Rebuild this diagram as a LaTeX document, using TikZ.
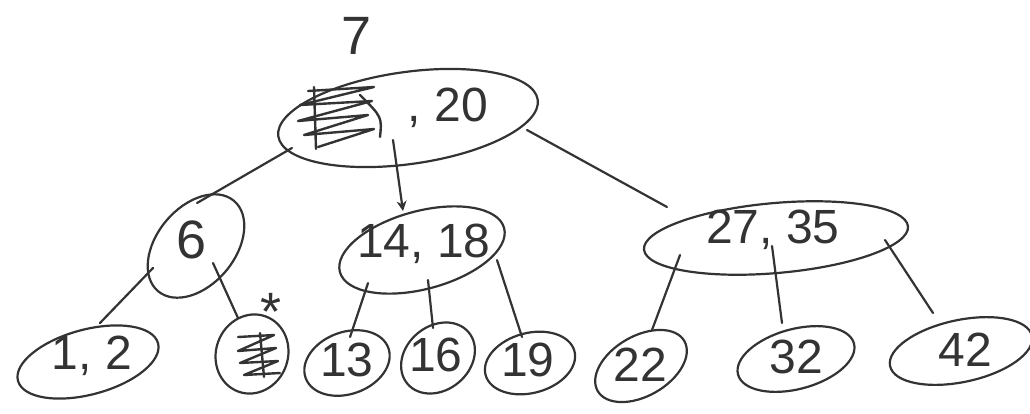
\documentclass[tikz,border=0pt]{standalone}
\usepackage{fontspec}
\setmainfont{Liberation Sans}
\usetikzlibrary{shapes.geometric,arrows.meta}
\definecolor{ink}{HTML}{333333}
\tikzset{
  bub/.style={draw=ink, line width=2.2pt, ellipse, inner sep=0pt},
  num/.style={text=ink, font=\fontsize{48}{52}\selectfont, inner sep=0pt},
  link/.style={draw=ink, line width=2.2pt, line cap=round},
  scrib/.style={draw=ink, line width=2.4pt, line cap=round, line join=round}
}
\begin{document}
\begin{tikzpicture}[x=1pt,y=-1pt]
\useasboundingbox (0,0) rectangle (1030,413);
% internal nodes
\node[bub, minimum width=262pt, minimum height=92pt, rotate=8] (root) at (408,118) {};
\node[bub, minimum width=118pt, minimum height=78pt, rotate=50] (n6) at (196,246) {};
\node[bub, minimum width=170pt, minimum height=78pt, rotate=15] (n1418) at (422,250) {};
\node[bub, minimum width=265pt, minimum height=70pt, rotate=5] (n2735) at (776,238) {};
% leaves
\node[bub, minimum width=145pt, minimum height=65pt, rotate=15] (l12) at (88,362) {};
\node[bub, minimum width=80pt, minimum height=72pt, rotate=70] (lx) at (252,354) {};
\node[bub, minimum width=88pt, minimum height=62pt, rotate=20] (l13) at (347,363) {};
\node[bub, minimum width=80pt, minimum height=64pt, rotate=40] (l16) at (438,358) {};
\node[bub, minimum width=92pt, minimum height=60pt, rotate=15] (l19) at (530,363) {};
\node[bub, minimum width=100pt, minimum height=60pt, rotate=30] (l22) at (641,366) {};
\node[bub, minimum width=120pt, minimum height=60pt, rotate=15] (l32) at (796,359) {};
\node[bub, minimum width=145pt, minimum height=62pt, rotate=12] (l42) at (961,351) {};
% texts
\node[num, font=\fontsize{54}{58}\selectfont] (t7) at (357,36) {7};
\node[num] (t20) at (448,108) {, 20};
\node[num, font=\fontsize{54}{58}\selectfont] (t6) at (192,240) {6};
\node[num] (t1418) at (424,244) {14, 18};
\node[num] (t2735) at (773,230) {27, 35};
\node[num] (t12) at (92,356) {1, 2};
\node[num] (t13) at (347,360) {13};
\node[num] (t16) at (436,355) {16};
\node[num] (t19) at (528,360) {19};
\node[num] (t22) at (640,365) {22};
\node[num] (t32) at (796,357) {32};
\node[num] (t42) at (965,350) {42};
\node[num, font=\fontsize{54}{58}\selectfont] (tstar) at (271,312) {*};
% scribbles (crossed-out keys)
\coordinate (sr) at (338,117);
\draw[scrib] ([shift={(-30,-26)}]sr) -- ([shift={(36,-30)}]sr) -- ([shift={(-38,-12)}]sr) -- ([shift={(34,-16)}]sr) -- ([shift={(-40,4)}]sr) -- ([shift={(30,-2)}]sr) -- ([shift={(-34,18)}]sr) -- ([shift={(36,12)}]sr) -- ([shift={(-20,30)}]sr);
\draw[scrib] ([shift={(-24,-30)}]sr) -- ([shift={(-22,32)}]sr);
\draw[scrib] ([shift={(22,-22)}]sr) .. controls ([shift={(44,0)}]sr) .. ([shift={(42,20)}]sr);
\coordinate (sx) at (258,355);
\draw[scrib] ([shift={(-20,-18)}]sx) -- ([shift={(16,-20)}]sx) -- ([shift={(-20,-4)}]sx) -- ([shift={(18,-7)}]sx) -- ([shift={(-18,8)}]sx) -- ([shift={(20,6)}]sx) -- ([shift={(-14,20)}]sx) -- ([shift={(22,18)}]sx);
\draw[scrib] ([shift={(2,-22)}]sx) -- ([shift={(6,22)}]sx);
% links
\draw[link] ([shift={(-116,30)}]root.center) -- ([shift={(1,-43)}]n6.center);
\draw[link, -{Stealth[length=10pt,width=10pt]}] ([shift={(-15,22)}]root.center) -- ([shift={(-19,-39)}]n1418.center);
\draw[link] ([shift={(119,12)}]root.center) -- ([shift={(-109,-31)}]n2735.center);
\draw[link] ([shift={(-43,22)}]n6.center) -- ([shift={(12,-39)}]l12.center);
\draw[link] ([shift={(17,17)}]n6.center) -- ([shift={(-14,-36)}]lx.center);
\draw[link] ([shift={(-54,33)}]n1418.center) -- ([shift={(3,-26)}]l13.center);
\draw[link] ([shift={(6,30)}]n1418.center) -- ([shift={(-5,-30)}]l16.center);
\draw[link] ([shift={(75,10)}]n1418.center) -- ([shift={(-8,-26)}]l19.center);
\draw[link] ([shift={(-96,17)}]n2735.center) -- ([shift={(11,-36)}]l22.center);
\draw[link] ([shift={(-4,8)}]n2735.center) -- ([shift={(-14,-36)}]l32.center);
\draw[link] ([shift={(109,2)}]n2735.center) -- ([shift={(-28,-38)}]l42.center);
\end{tikzpicture}
\end{document}
